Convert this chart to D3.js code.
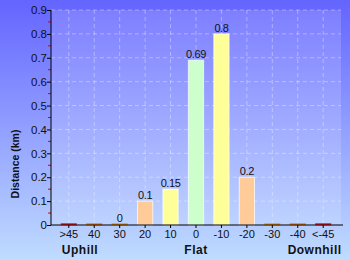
<!DOCTYPE html>
<html>
<head>
<meta charset="utf-8">
<script src="https://cdn.jsdelivr.net/npm/d3@7"></script>
<style>
  body { margin: 0; }
  svg { display: block; font-family: "Liberation Sans", Arial, sans-serif; }
</style>
</head>
<body>
<div id="chart"></div>
<script>
// data
const grades = [">45", "40", "30", "20", "10", "0", "-10", "-20", "-30", "-40", "<-45"];
const distances = [0.006, 0.006, 0.006, 0.1, 0.15, 0.69, 0.8, 0.2, 0.006, 0.006, 0.006];
const valueLabels = ["", "", "0", "0.1", "0.15", "0.69", "0.8", "0.2", "", "", ""];
const barColors = ["#ff1a1a", "#ff8000", "#ff9900", "#ffcc99", "#ffff99", "#ccffcc",
                   "#ffff99", "#ffcc99", "#ff9900", "#ff8000", "#ff1a1a"];
const yTicks = [0, 0.1, 0.2, 0.3, 0.4, 0.5, 0.6, 0.7, 0.8, 0.9];
// group label and its position in band units
const groupLabels = [["Uphill", 0.6], ["Flat", 5], ["Downhill", 9.5]];

const width = 350, height = 260;
const plotLeft = 51, plotRight = 341, plotTop = 10, plotBottom = 225;

const svg = d3.select("#chart").append("svg")
    .attr("width", width)
    .attr("height", height);

// background gradient
const defs = svg.append("defs");
const grad = defs.append("linearGradient")
    .attr("id", "bg").attr("x1", 0).attr("y1", 0).attr("x2", 0).attr("y2", 1);
grad.append("stop").attr("offset", "0%").attr("stop-color", "#6464ff");
grad.append("stop").attr("offset", "100%").attr("stop-color", "#c0dcff");

svg.append("rect")
    .attr("width", width).attr("height", height)
    .attr("fill", "url(#bg)");

// plot area overlay
svg.append("rect")
    .attr("x", plotLeft).attr("y", plotTop)
    .attr("width", plotRight - plotLeft).attr("height", plotBottom - plotTop)
    .attr("fill", "#ffffff").attr("opacity", 0.15);

let x = d3.scaleBand()
    .domain(grades)
    .range([plotLeft, plotRight])
    .padding(0.4);

let y = d3.scaleLinear()
    .domain([0, 0.9])
    .range([plotBottom, plotTop]);

// band index -> pixel, for the group labels
let xGroup = d3.scaleLinear()
    .domain([-0.5, grades.length - 0.5])
    .range([plotLeft, plotRight]);

// grid lines
svg.append("g")
    .selectAll("line")
    .data(yTicks.slice(1))
    .join("line")
    .attr("x1", plotLeft).attr("x2", plotRight)
    .attr("y1", d => y(d)).attr("y2", d => y(d))
    .attr("stroke", "#ffffff").attr("stroke-opacity", 0.35)
    .attr("stroke-dasharray", "4,3");

svg.append("g")
    .selectAll("line")
    .data(grades)
    .join("line")
    .attr("x1", d => x(d) + x.bandwidth() / 2)
    .attr("x2", d => x(d) + x.bandwidth() / 2)
    .attr("y1", plotTop).attr("y2", plotBottom)
    .attr("stroke", "#ffffff").attr("stroke-opacity", 0.35)
    .attr("stroke-dasharray", "4,3");

// bars
svg.append("g")
    .selectAll("rect")
    .data(distances)
    .join("rect")
    .attr("x", (d, i) => x(grades[i]))
    .attr("y", d => y(d))
    .attr("width", x.bandwidth())
    .attr("height", d => y(0) - y(d))
    .attr("fill", (d, i) => barColors[i])
    .attr("stroke", (d, i) => d > 0.05 ? "#ffffff" : barColors[i])
    .attr("stroke-opacity", 0.7)
    .attr("stroke-width", 1);

// value labels
svg.append("g")
    .selectAll("text")
    .data(distances)
    .join("text")
    .attr("x", (d, i) => x(grades[i]) + x.bandwidth() / 2)
    .attr("y", d => y(d) - 2)
    .attr("text-anchor", "middle")
    .attr("font-size", "11px")
    .attr("letter-spacing", "-0.4px")
    .attr("fill", "#111")
    .text((d, i) => valueLabels[i]);

// minor y ticks (red)
svg.append("g")
    .selectAll("line")
    .data(yTicks.slice(0, -1))
    .join("line")
    .attr("x1", plotLeft - 3).attr("x2", plotLeft)
    .attr("y1", d => y(d + 0.05)).attr("y2", d => y(d + 0.05))
    .attr("stroke", "#dd0000");

let yAxis = d3.axisLeft(y)
    .tickValues(yTicks)
    .tickSize(4)
    .tickFormat(d => d === 0 ? "0" : d3.format(".1f")(d));

let xAxis = d3.axisBottom(x)
    .tickSize(3)
    .tickSizeOuter(0);

svg.append("g")
    .attr("class", "y axis")
    .attr("transform", "translate(" + plotLeft + ",0)")
    .call(yAxis)
    .call(g => g.select(".domain").attr("d", `M0,${plotTop}V${plotBottom}`))
    .call(g => g.selectAll("text").attr("font-size", "11.5px").attr("fill", "#111").attr("x", -4));

svg.append("g")
    .attr("class", "x axis")
    .attr("transform", "translate(0," + plotBottom + ")")
    .call(xAxis)
    .call(g => g.select(".domain").attr("d", `M${plotLeft},0H${plotRight + 2}`))
    .call(g => g.selectAll("text").attr("font-size", "11px").attr("fill", "#111").attr("y", 5));

svg.selectAll(".axis path, .axis line").attr("stroke", "#000");

// group labels
svg.append("g")
    .selectAll("text")
    .data(groupLabels)
    .join("text")
    .attr("x", d => xGroup(d[1]))
    .attr("y", 254)
    .attr("text-anchor", "middle")
    .attr("font-size", "12px")
    .attr("letter-spacing", "0.5px")
    .attr("font-weight", "bold")
    .attr("fill", "#111")
    .text(d => d[0]);

// y axis title
svg.append("text")
    .attr("transform", "rotate(-90)")
    .attr("x", -164)
    .attr("y", 19)
    .attr("text-anchor", "middle")
    .attr("font-size", "10.5px")
    .attr("font-weight", "bold")
    .attr("fill", "#111")
    .text("Distance (km)");
</script>
</body>
</html>
